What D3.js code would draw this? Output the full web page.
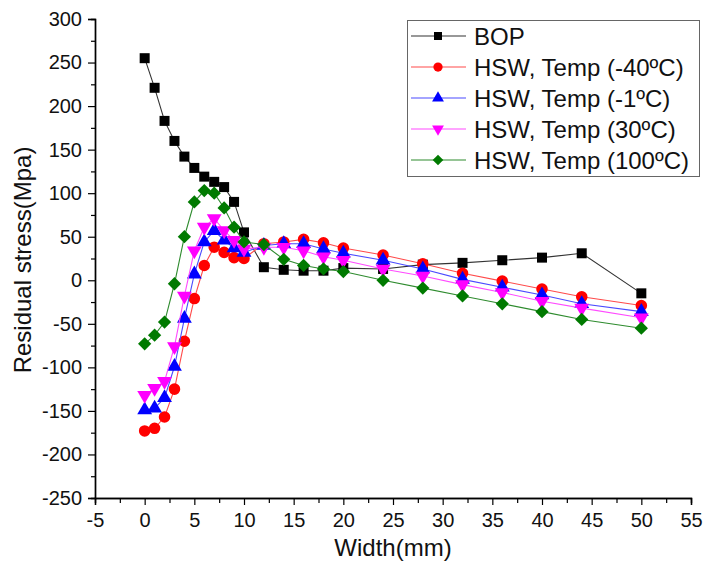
<!DOCTYPE html>
<html>
<head>
<meta charset="utf-8">
<script src="https://cdn.jsdelivr.net/npm/d3@7"></script>
<style>
  body { margin: 0; background: #fff; }
  svg { display: block; font-family: "Liberation Sans", Arial, sans-serif; }
</style>
</head>
<body>
<svg id="chart" width="705" height="577"></svg>
<script>
// measured widths (mm) and residual stress (MPa) for each condition
const widths = [0, 1, 2, 3, 4, 5, 6, 7, 8, 9, 10, 12, 14, 16, 18, 20, 24, 28, 32, 36, 40, 44, 50];
const bop = [255, 221, 183, 160, 142, 129, 119, 113, 107, 90, 55, 15, 12, 11, 11, 14, 13, 18, 20, 23, 26, 31, -15];
const hswMinus40 = [-173, -170, -157, -125, -70, -21, 17, 38, 32, 26, 25, 42, 44, 47, 43, 37, 29, 19, 8, -1, -10, -19, -29];
const hswMinus1 = [-149, -147, -135, -99, -44, 7, 44, 57, 46, 37, 32, 40, 42, 42, 36, 31, 23, 13, 1, -8, -17, -27, -36];
const hsw30 = [-132, -124, -116, -76, -18, 34, 61, 71, 57, 46, 36, 38, 38, 34, 27, 23, 13, 5, -5, -14, -24, -32, -43];
const hsw100 = [-73, -63, -48, -4, 50, 90, 103, 100, 83, 61, 44, 41, 24, 17, 13, 10, 0, -9, -18, -27, -36, -45, -55];

const seriesNames = ['BOP', 'HSW, Temp (-40ºC)', 'HSW, Temp (-1ºC)', 'HSW, Temp (30ºC)', 'HSW, Temp (100ºC)'];
const xTicks = d3.range(-5, 56, 5);
const yTicks = d3.range(-250, 301, 50);

const styles = [
  { line: '#333', fill: '#000', shape: 'square' },
  { line: '#ff4a4a', fill: '#ff0000', shape: 'circle' },
  { line: '#4a4aff', fill: '#0000ff', shape: 'up' },
  { line: '#ff4aff', fill: '#ff00ff', shape: 'down' },
  { line: '#2e8b2e', fill: '#007a00', shape: 'diamond' }
];

const series = [bop, hswMinus40, hswMinus1, hsw30, hsw100].map((vals, i) => ({
  name: seriesNames[i],
  style: styles[i],
  points: widths.map((w, j) => ({ x: w, y: vals[j] }))
}));

const svg = d3.select('#chart');

const x = d3.scaleLinear().domain([-5, 55]).range([95, 691]);
const y = d3.scaleLinear().domain([-250, 300]).range([498, 19]);

// marker path + rotation for a given shape and scale factor
function marker(shape, k) {
  const sizes = { square: 100, circle: 105, up: 95, down: 95, diamond: 88 };
  const types = { square: d3.symbolSquare, circle: d3.symbolCircle, up: d3.symbolTriangle, down: d3.symbolTriangle, diamond: d3.symbolSquare };
  const rot = { square: 0, circle: 0, up: 0, down: 180, diamond: 45 };
  return {
    d: d3.symbol().type(types[shape]).size(sizes[shape] * k * k)(),
    rot: rot[shape]
  };
}

// axes
const axisG = svg.append('g');

axisG.append('g')
  .attr('transform', `translate(${x(-5)},0)`)
  .call(d3.axisLeft(y).tickValues(d3.range(-225, 300, 50)).tickSize(4).tickFormat(''));
axisG.append('g')
  .attr('transform', `translate(${x(-5)},0)`)
  .call(d3.axisLeft(y).tickValues(yTicks).tickSize(7).tickPadding(6).tickFormat(d3.format('d')));

axisG.append('g')
  .attr('transform', `translate(0,${y(-250)})`)
  .call(d3.axisBottom(x).tickValues(d3.range(-2.5, 55, 5)).tickSize(5).tickFormat(''));
axisG.append('g')
  .attr('transform', `translate(0,${y(-250)})`)
  .call(d3.axisBottom(x).tickValues(xTicks).tickSize(7).tickPadding(8).tickFormat(d3.format('d')));

axisG.selectAll('.domain').attr('stroke', '#000').attr('stroke-width', 1.4);
axisG.selectAll('.tick line').attr('stroke', '#000').attr('stroke-width', 1.2);
axisG.selectAll('text')
  .attr('font-size', 20)
  .attr('fill', '#111')
  .attr('font-family', '"Liberation Sans", Arial, sans-serif');
// d3 uses unicode minus; the original uses hyphen
axisG.selectAll('text').text(function () { return d3.select(this).text().replace('−', '-'); });

// axis titles
svg.append('text')
  .attr('x', 393)
  .attr('y', 556)
  .attr('text-anchor', 'middle')
  .attr('font-size', 24)
  .attr('fill', '#111')
  .text('Width(mm)');

svg.append('text')
  .attr('transform', 'translate(31,260) rotate(-90)')
  .attr('text-anchor', 'middle')
  .attr('font-size', 24)
  .attr('fill', '#111')
  .text('Residual stress(Mpa)');

// series
const line = d3.line().x((d) => x(d.x)).y((d) => y(d.y));

series.forEach((s) => {
  const g = svg.append('g');
  g.append('path')
    .datum(s.points)
    .attr('fill', 'none')
    .attr('stroke', s.style.line)
    .attr('stroke-width', 1.1)
    .attr('d', line);

  const m = marker(s.style.shape, 1);
  g.selectAll('path.pt')
    .data(s.points)
    .join('path')
    .attr('class', 'pt')
    .attr('d', m.d)
    .attr('fill', s.style.fill)
    .attr('transform', (d) => `translate(${x(d.x)},${y(d.y)}) rotate(${m.rot})`);
});

// legend
const legend = svg.append('g');
legend.append('rect')
  .attr('x', 407.5)
  .attr('y', 20.5)
  .attr('width', 292)
  .attr('height', 156)
  .attr('fill', '#fff')
  .attr('stroke', '#666')
  .attr('stroke-width', 1);

series.forEach((s, i) => {
  const cy = 36 + i * 31;
  const row = legend.append('g');
  row.append('line')
    .attr('x1', 411).attr('x2', 466)
    .attr('y1', cy).attr('y2', cy)
    .attr('stroke', s.style.line)
    .attr('stroke-width', 1.1);
  const m = marker(s.style.shape, 0.8);
  row.append('path')
    .attr('d', m.d)
    .attr('fill', s.style.fill)
    .attr('transform', `translate(438,${cy}) rotate(${m.rot})`);
  row.append('text')
    .attr('x', 474)
    .attr('y', cy)
    .attr('dy', '0.36em')
    .attr('font-size', 24)
    .attr('fill', '#111')
    .text(s.name);
});
</script>
</body>
</html>
